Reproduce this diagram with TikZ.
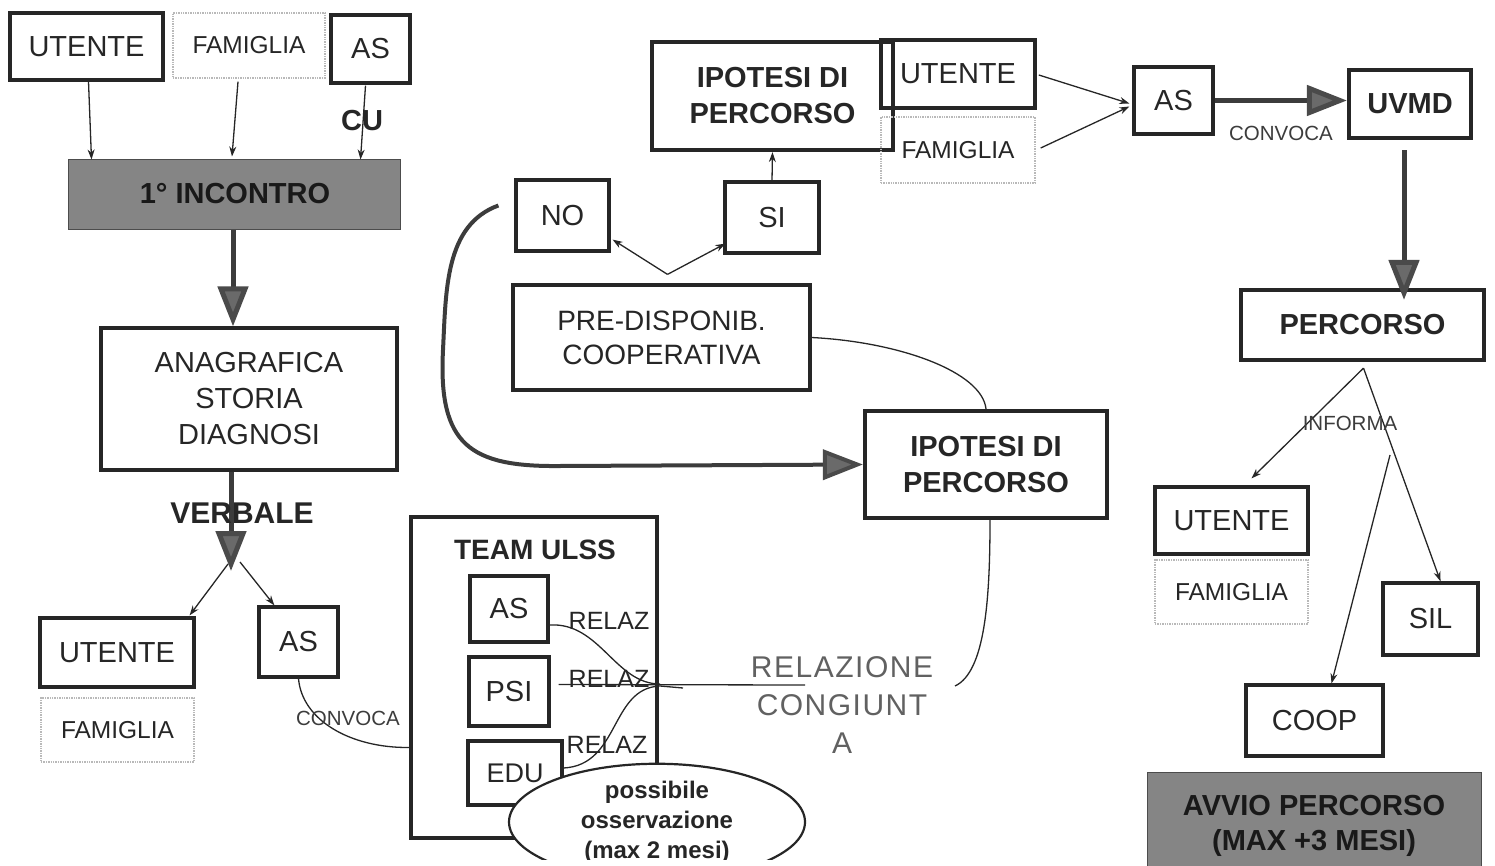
\documentclass[tikz,border=0pt]{standalone}
\usepackage{fontspec}
\setmainfont{Liberation Sans}
\usetikzlibrary{arrows.meta,calc,shapes.geometric}
\newcommand\szBig{\fontsize{29}{36}\selectfont}
\newcommand\szFam{\fontsize{24.5}{30}\selectfont}
\newcommand\szSmall{\fontsize{20.5}{24}\selectfont}
\definecolor{ink}{HTML}{262626}
\definecolor{boxgray}{HTML}{858585}
\definecolor{headgray}{HTML}{6A6A6A}
\begin{document}
\begin{tikzpicture}[x=1pt,y=-1pt,
  every node/.style={inner sep=0pt, align=center, text=ink},
  sz/.style 2 args={minimum width=#1pt, minimum height=#2pt},
  bx/.style={draw=ink, line width=3.2pt, font=\szBig},
  bxthick/.style={draw=ink, line width=4.2pt, font=\bfseries\szBig},
  fam/.style={draw=gray!55, densely dotted, line width=1.4pt, font=\szFam},
  shaded/.style={fill=boxgray, draw=gray!60!black, line width=1pt},
  arr/.style={draw=ink, line width=1.3pt, -{Stealth[length=10pt,width=7pt]}},
  thinline/.style={draw=ink, line width=1.3pt},
  bigarr/.style={draw=ink!90, line width=5pt, -{Triangle[length=40pt,width=30pt,fill=headgray,color=headgray!70!black]}},
  lbl/.style={font=\bfseries\szBig},
  slbl/.style={font=\szSmall, text=ink!90},
  relaz/.style={font=\fontsize{25}{30}\selectfont},
]
\useasboundingbox (0,0) rectangle (1495,866);

% ---------- left column ----------
\node[bx, sz={153}{67}] (u1) at (86.5,46.5) {UTENTE};
\node[fam, sz={152}{65}] (f1) at (249,45.5) {FAMIGLIA};
\node[bx, sz={79}{68}] (as1) at (370.5,49) {AS};
\node[shaded, sz={332}{70}] (inc) at (234,195) {};
\node[lbl, text=black!90] (inct) at (235,194) {1° INCONTRO};
\node[bx, sz={296}{142}] (ana) at (249,399) {ANAGRAFICA\\STORIA\\DIAGNOSI};
\node[bx, sz={154}{69}] (u2) at (117,652.5) {UTENTE};
\node[fam, sz={153}{64}] (f2) at (117.5,730) {FAMIGLIA};
\node[bx, sz={79}{70}] (as2) at (298.5,642) {AS};

\draw[arr] ($(u1.south)+(2,0)$) -- ($(inc.north west)+(24,0)$);
\draw[arr] ($(f1.south)+(-11,3)$) -- ($(inc.north)+(-2,-3)$);
\draw[arr] ($(as1.south)+(-5,1)$) -- ($(inc.north east)+(-40,0)$);
\node[lbl] (cu) at (362,121) {CU};

\draw[bigarr] ($(inc.south)+(-1,0)$) -- ($(ana.north)+(-16,0)$);
\coordinate (vtip) at (231,571);
\draw[bigarr] ($(ana.south)+(-18,0)$) -- (vtip);
\node[lbl, font=\bfseries\fontsize{30}{36}\selectfont] (verb) at (242,513) {VERBALE};
\draw[arr] ($(vtip)+(-3,-7)$) -- ($(u2.north east)+(-6,-1)$);
\draw[arr] ($(vtip)+(9,-9)$) -- ($(as2.north west)+(17,0)$);

% ---------- team ----------
\node[bxthick, sz={246}{321}] (team) at (534,677.5) {};
\node[lbl, font=\bfseries\fontsize{28}{34}\selectfont] (teamt) at (535,550) {TEAM ULSS};
\node[bx, sz={78}{66}] (tas) at (509,609) {AS};
\node[bx, sz={80}{69}] (tpsi) at (509,691.5) {PSI};
\node[bx, sz={94}{64}, font=\fontsize{27}{32}\selectfont] (tedu) at (515,773) {EDU};

\draw[thinline] (as2.south) .. controls (302,720) and (350,748) .. ($(team.west)+(0,70)$);
\node[slbl] (conv1) at (348,718) {CONVOCA};

\coordinate (relend) at (805,685);
\coordinate (knot) at (683,688);
\draw[thinline] ($(tas.east)+(0,16)$) .. controls (600,622) and (615,684) .. (660,684);
\draw[thinline] ($(tpsi.east)+(8,-7)$) -- (relend);
\draw[thinline] ($(tedu.east)+(0,-5)$) .. controls (620,765) and (610,688) .. (660,686) -- (knot);
\node[relaz] (r1) at (609,621) {RELAZ};
\node[relaz] (r2) at (609,679) {RELAZ};
\node[relaz] (r3) at (607,745) {RELAZ};

\begin{scope}
\clip (0,0) rectangle (1495,859);
\node[ellipse, draw=ink, line width=2.2pt, fill=white, sz={296}{104},
      font=\bfseries\fontsize{24}{30}\selectfont] (obs) at (657,822) {possibile\\osservazione\\(max 2 mesi)};
\end{scope}

\node[font=\fontsize{30}{38}\selectfont\addfontfeatures{LetterSpace=5}, text=black!62] (rel) at (842,705) {RELAZIONE\\CONGIUNT\\A};

% ---------- middle ----------
\node[bx, sz={93}{71}] (no) at (562.5,215.5) {NO};
\node[bx, sz={94}{71}] (si) at (772,217.5) {SI};
\node[bx, sz={297}{105}, font=\fontsize{28}{34}\selectfont] (pre) at (661.5,337.5) {PRE-DISPONIB.\\COOPERATIVA};
\node[bxthick, sz={241}{108}] (ip1) at (772.5,96) {IPOTESI DI\\PERCORSO};
\node[bx, line width=3.6pt, sz={154}{68}] (u3) at (958,74) {UTENTE};
\node[fam, sz={154}{66}] (f3) at (958,150) {FAMIGLIA};
\node[bx, sz={79}{67}] (as3) at (1173.5,100.5) {AS};
\node[bxthick, sz={122}{68}] (uvmd) at (1410,104) {UVMD};
\node[bxthick, sz={242}{107}] (ip2) at (986,464.5) {IPOTESI DI\\PERCORSO};

\coordinate (split) at ($(pre.north)+(6,-9)$);
\draw[arr] (split) -- ($(no.south east)+(2,-13)$);
\draw[arr] (split) -- ($(si.south west)+(2,-11)$);
\draw[arr] (si.north) -- (ip1.south);

\coordinate (nostart) at ($(no.west)+(-16,-10)$);
\draw[bigarr, line width=4pt] (nostart) .. controls (445,225) and (446,290) .. (443,350)
   .. controls (438,445) and (470,467) .. (560,466) -- (ip2.west);

\draw[thinline] (pre.east) .. controls (900,342) and (982,372) .. (ip2.north);
\draw[thinline] (955,686) .. controls (985,672) and (990,600) .. ($(ip2.south)+(4,0)$);

\draw[arr] ($(u3.east)+(2,1)$) -- ($(as3.west)+(-3,3)$);
\draw[arr] ($(f3.east)+(5,-2)$) -- ($(as3.west)+(-3,6)$);

% ---------- right ----------
\draw[bigarr] (as3.east) -- (as3.east -| uvmd.west);
\node[slbl] (conv2) at (1281,133) {CONVOCA};
\node[bxthick, sz={243}{70}] (perc) at (1362.5,325) {PERCORSO};
\draw[bigarr] ($(uvmd.south)+(-6,10)$) -- ($(perc.north)+(41.5,12)$);

\node[bx, sz={153}{67}] (u4) at (1231.5,520.5) {UTENTE};
\node[fam, sz={153}{64}] (f4) at (1231.5,592) {FAMIGLIA};
\node[bx, sz={95}{72}] (sil) at (1430.5,619) {SIL};
\node[bx, sz={137}{71}] (coop) at (1314.5,720.5) {COOP};
\node[shaded, sz={334}{94}] (avvio) at (1314,819) {};
\node[lbl, font=\bfseries\fontsize{29}{35}\selectfont, text=black!90] (avviot) at (1314,826) {AVVIO PERCORSO\\(MAX +3 MESI)};

\draw[arr] ($(perc.south)+(1,6)$) -- ($(u4.north)+(20,-7)$);
\draw[arr] ($(perc.south)+(1,6)$) -- ($(sil.north)+(10,0)$);
\coordinate (coopstart) at (1390,455);
\draw[arr] (coopstart) -- ($(coop.north)+(17,0)$);
\node[slbl] (inf) at (1350,423) {INFORMA};
\end{tikzpicture}
\end{document}
